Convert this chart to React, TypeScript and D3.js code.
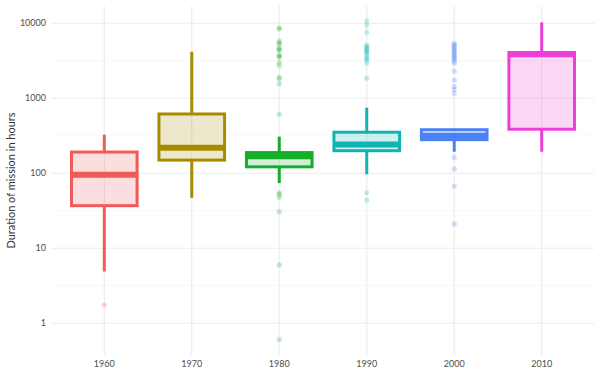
import * as d3 from "d3";

const decades = ["1960", "1970", "1980", "1990", "2000", "2010"];
const colors = ["#F25A5A", "#A68B00", "#14AE2A", "#12B3B5", "#4A80F5", "#EE3ED8"];

// box stats, hours
const lowerWhisker = [4.9, 47, 74, 97, 194, 194];
const q1 = [37, 150, 122, 200, 281, 387];
const medians = [96, 219, 169, 242, 317, 3860];
const q3 = [192, 618, 189, 353, 381, 4080];
const upperWhisker = [327, 4180, 308, 750, 392, 10300];

const outliers1960 = [1.75];
const outliers1970: number[] = [];
const outliers1980 = [
  8730, 8400, 5810, 5460, 5300, 4640, 4500, 4365, 3780, 3650, 3550, 3020, 2720,
  1925, 1810, 1565, 612, 55, 52.5, 47.9, 30.8, 6.0, 0.61,
];
const outliers1990 = [
  10740, 9490, 7590, 5140, 4900, 4690, 4480, 4280, 4100, 3900, 3556, 3400, 3240,
  2950, 1848, 55, 44,
];
const outliers2000 = [
  5410, 5200, 4980, 4760, 4540, 4340, 4140, 3950, 3780, 3600, 3450, 3300, 3140,
  2930, 2310, 1755, 1437, 1310, 1166, 163, 115, 67.7, 21.1,
];
const outliers2010: number[] = [];
const outliers = [outliers1960, outliers1970, outliers1980, outliers1990, outliers2000, outliers2010];

const yMajor = [1, 10, 100, 1000, 10000];
const yMinor = [Math.sqrt(10), Math.sqrt(1000), Math.sqrt(100000), Math.sqrt(10000000)];

const W = 600;
const H = 375;
const panel = { left: 51.8, right: 594.2, top: 6, bottom: 355 };

export default function App() {
  const x = d3
    .scalePoint<string>()
    .domain(decades)
    .range([panel.left, panel.right])
    .padding(0.6);
  const y = d3
    .scaleLog()
    .domain([Math.pow(10, -0.423), Math.pow(10, 4.231)])
    .range([panel.bottom, panel.top]);
  const boxW = x.step() * 0.75;

  return (
    <svg
      width={W}
      height={H}
      style={{ position: "absolute", left: 0, top: 0, display: "block" }}
      fontFamily="Lato, 'Open Sans', sans-serif"
    >
      <rect width={W} height={H} fill="#fff" />
      {/* grid */}
      {yMinor.map((v) => (
        <line
          key={"mi" + v}
          x1={panel.left}
          x2={panel.right}
          y1={y(v)}
          y2={y(v)}
          stroke="#F2F2F2"
          strokeWidth={0.6}
        />
      ))}
      {yMajor.map((v) => (
        <line
          key={"ma" + v}
          x1={panel.left}
          x2={panel.right}
          y1={y(v)}
          y2={y(v)}
          stroke="#EBEBEB"
          strokeWidth={1.1}
        />
      ))}
      {decades.map((d) => (
        <line
          key={"vx" + d}
          x1={x(d)}
          x2={x(d)}
          y1={panel.top}
          y2={panel.bottom}
          stroke="#EBEBEB"
          strokeWidth={1.1}
        />
      ))}

      {/* outliers */}
      {decades.map((d, i) =>
        outliers[i].map((v, j) => (
          <circle
            key={d + "o" + j}
            cx={x(d)}
            cy={y(v)}
            r={2.6}
            fill={colors[i]}
            fillOpacity={0.25}
          />
        ))
      )}

      {/* boxes */}
      {decades.map((d, i) => {
        const cx = x(d) as number;
        return (
          <g key={"b" + d}>
            <line
              x1={cx}
              x2={cx}
              y1={y(q3[i])}
              y2={y(upperWhisker[i])}
              stroke={colors[i]}
              strokeWidth={3}
            />
            <line
              x1={cx}
              x2={cx}
              y1={y(q1[i])}
              y2={y(lowerWhisker[i])}
              stroke={colors[i]}
              strokeWidth={3}
            />
            <rect
              x={cx - boxW / 2}
              y={y(q3[i])}
              width={boxW}
              height={y(q1[i]) - y(q3[i])}
              fill={colors[i]}
              fillOpacity={0.2}
              stroke={colors[i]}
              strokeWidth={3}
            />
            <line
              x1={cx - boxW / 2}
              x2={cx + boxW / 2}
              y1={y(medians[i])}
              y2={y(medians[i])}
              stroke={colors[i]}
              strokeWidth={6}
            />
          </g>
        );
      })}

      {/* axes text */}
      {yMajor.map((v) => (
        <text
          key={"yt" + v}
          x={46}
          y={y(v)}
          dy="0.35em"
          textAnchor="end"
          fontSize={9}
          fill="#4D4D4D"
        >
          {d3.format("d")(v)}
        </text>
      ))}
      {decades.map((d) => (
        <text
          key={"xt" + d}
          x={x(d)}
          y={364}
          dy="0.35em"
          textAnchor="middle"
          fontSize={9}
          fill="#4D4D4D"
        >
          {d}
        </text>
      ))}
      <text
        transform={`translate(14.5,${(panel.top + panel.bottom) / 2}) rotate(-90)`}
        textAnchor="middle"
        fontSize={11}
        fill="#333"
      >
        Duration of mission in hours
      </text>
    </svg>
  );
}
